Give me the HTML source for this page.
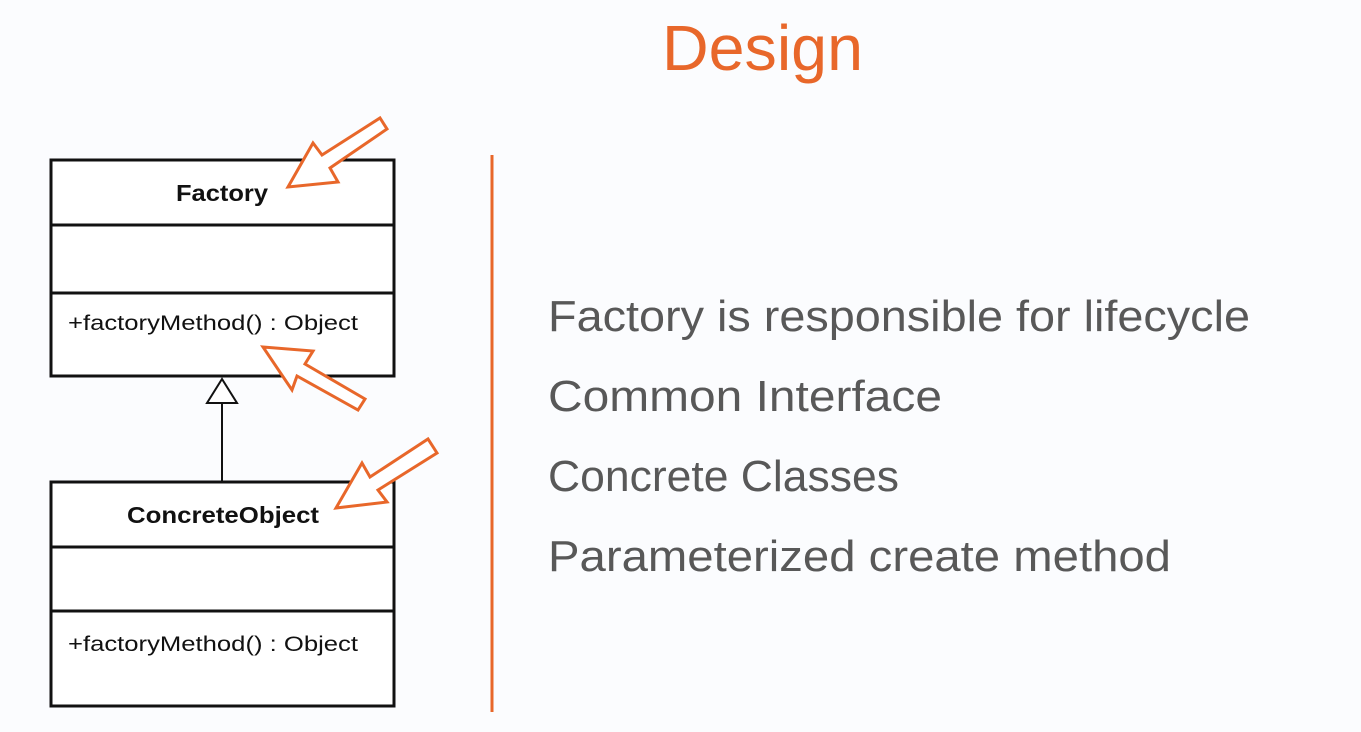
<!DOCTYPE html>
<html><head><meta charset="utf-8"><style>
html,body{margin:0;padding:0;background:#fbfcfe;}
svg{display:block;}
</style></head><body>
<svg width="1361" height="732" viewBox="0 0 1361 732" xmlns="http://www.w3.org/2000/svg">
<rect width="1361" height="732" fill="#fbfcfe"/>
<text x="662" y="70" font-family="Liberation Sans, sans-serif" font-size="64" fill="#e8672a" textLength="201" lengthAdjust="spacingAndGlyphs">Design</text>
<line x1="492" y1="155" x2="492" y2="712" stroke="#e8672a" stroke-width="3"/>
<g font-family="Liberation Sans, sans-serif" font-size="44" fill="#585858">
<text x="548" y="331" textLength="702" lengthAdjust="spacingAndGlyphs">Factory is responsible for lifecycle</text>
<text x="548" y="411" textLength="394" lengthAdjust="spacingAndGlyphs">Common Interface</text>
<text x="548" y="491" textLength="351" lengthAdjust="spacingAndGlyphs">Concrete Classes</text>
<text x="548" y="571" textLength="623" lengthAdjust="spacingAndGlyphs">Parameterized create method</text>
</g>
<g fill="#fff" stroke="#111" stroke-width="3">
<rect x="51" y="160" width="343" height="216"/>
<line x1="51" y1="225" x2="394" y2="225"/>
<line x1="51" y1="293" x2="394" y2="293"/>
<rect x="51" y="482" width="343" height="224"/>
<line x1="51" y1="547" x2="394" y2="547"/>
<line x1="51" y1="611" x2="394" y2="611"/>
</g>
<line x1="222" y1="403" x2="222" y2="482" stroke="#111" stroke-width="2"/>
<polygon points="222,379 207,403 237,403" fill="#fff" stroke="#111" stroke-width="2"/>
<g font-family="Liberation Sans, sans-serif" fill="#111">
<text x="176" y="201" font-size="23" font-weight="bold" textLength="92" lengthAdjust="spacingAndGlyphs">Factory</text>
<text x="68" y="330" font-size="21" textLength="290" lengthAdjust="spacingAndGlyphs">+factoryMethod() : Object</text>
<text x="127" y="523" font-size="23" font-weight="bold" textLength="192" lengthAdjust="spacingAndGlyphs">ConcreteObject</text>
<text x="68" y="651" font-size="21" textLength="290" lengthAdjust="spacingAndGlyphs">+factoryMethod() : Object</text>
</g>
<g fill="#fff" stroke="#e8672a" stroke-width="3" stroke-linejoin="miter">
<polygon points="288,187 313,143 322,155 380,118 387,129 330,168 338,182"/>
<polygon points="263,347 313,351 305,364 365,399 358,410 297,376 292,390"/>
<polygon points="336,508 362,463 370,477 428,439 437,453 378,490 387,502"/>
</g>
</svg>
</body></html>
